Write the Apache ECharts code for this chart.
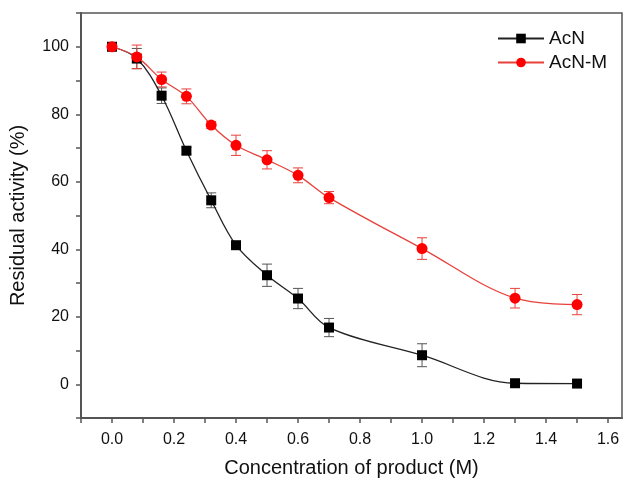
<!DOCTYPE html>
<html>
<head>
<meta charset="utf-8">
<script src="https://cdn.jsdelivr.net/npm/echarts@6/dist/echarts.min.js"></script>
<style>
  html, body { margin: 0; padding: 0; background: #fff; }
  #main { width: 625px; height: 482px; }
</style>
</head>
<body>
<div id="main"></div>
<script>
// concentration (M)
const conc = [0, 0.08, 0.16, 0.24, 0.32, 0.4, 0.5, 0.6, 0.7, 1.0, 1.3, 1.5];

// residual activity (%)
const acn = [100, 96.5, 85.5, 69.2, 54.5, 41.2, 32.3, 25.4, 16.8, 8.6, 0.3, 0.2];
const acnErr = [0, 3, 2.3, 1, 2.2, 1, 3.3, 3, 2.7, 3.4, 0, 0];
const acnM = [100, 97, 90.3, 85.3, 76.8, 70.8, 66.5, 61.9, 55.3, 40.2, 25.5, 23.6];
const acnMErr = [0, 3.5, 2.2, 2.2, 1, 3, 2.7, 2.2, 1.8, 3.2, 2.9, 3];

const font = 'Liberation Sans, Arial, sans-serif';
const axisColor = '#555';

function pairs(ys) {
  return conc.map((x, i) => [x, ys[i]]);
}

function errData(ys, errs) {
  return conc.map((x, i) => [x, ys[i] - errs[i], ys[i] + errs[i]]);
}

function errorBars(color) {
  return function (params, api) {
    const x = api.value(0);
    const lo = api.coord([x, api.value(1)]);
    const hi = api.coord([x, api.value(2)]);
    const half = 5;
    const style = { stroke: color, lineWidth: 1 };
    if (Math.abs(hi[1] - lo[1]) < 1) return null;
    return {
      type: 'group',
      children: [
        { type: 'line', shape: { x1: lo[0], y1: lo[1], x2: hi[0], y2: hi[1] }, style: style },
        { type: 'line', shape: { x1: lo[0] - half, y1: lo[1], x2: lo[0] + half, y2: lo[1] }, style: style },
        { type: 'line', shape: { x1: hi[0] - half, y1: hi[1], x2: hi[0] + half, y2: hi[1] }, style: style }
      ]
    };
  };
}

const myChart = echarts.init(document.getElementById('main'));

myChart.setOption({
  animation: false,
  textStyle: { fontFamily: font },
  grid: {
    left: 81, top: 13, right: 3, bottom: 64,
    containLabel: false,
    outerBoundsMode: 'none',
    show: true, borderColor: axisColor, borderWidth: 1.5
  },
  legend: {
    orient: 'vertical',
    left: 492,
    top: 24,
    itemWidth: 46,
    itemHeight: 12,
    itemGap: 5,
    data: ['AcN', 'AcN-M'],
    textStyle: { fontFamily: font, fontSize: 19, color: '#111' }
  },
  xAxis: {
    type: 'value',
    min: -0.1,
    max: 1.645,
    interval: 0.1,
    name: 'Concentration of product (M)',
    nameLocation: 'middle',
    nameGap: 40,
    nameTextStyle: { fontFamily: font, fontSize: 20, color: '#111' },
    axisLine: { onZero: false, lineStyle: { color: axisColor, width: 2 } },
    axisTick: { length: 5, lineStyle: { color: axisColor, width: 1.5 } },
    splitLine: { show: false },
    axisLabel: {
      margin: 14,
      fontSize: 16,
      color: '#111',
      showMaxLabel: false,
      formatter: v => {
        const k = Math.round(v * 10);
        return (k >= 0 && k % 2 === 0) ? (k / 10).toFixed(1) : '';
      }
    }
  },
  yAxis: {
    type: 'value',
    min: -10,
    max: 110,
    interval: 10,
    name: 'Residual activity (%)',
    nameLocation: 'middle',
    nameGap: 53,
    nameTextStyle: { fontFamily: font, fontSize: 20, color: '#111' },
    axisLine: { onZero: false, lineStyle: { color: axisColor, width: 2 } },
    axisTick: { length: 5, lineStyle: { color: axisColor, width: 1.5 } },
    splitLine: { show: false },
    axisLabel: {
      margin: 12,
      fontSize: 16,
      color: '#111',
      formatter: v => (v >= 0 && v <= 100 && v % 20 === 0) ? String(v) : ''
    }
  },
  series: [
    {
      type: 'custom',
      name: 'errAcN',
      renderItem: errorBars('#555'),
      data: errData(acn, acnErr),
      z: 1
    },
    {
      type: 'custom',
      name: 'errAcNM',
      renderItem: errorBars('#e8413b'),
      data: errData(acnM, acnMErr),
      z: 1
    },
    {
      name: 'AcN',
      type: 'line',
      smooth: 0.35,
      data: pairs(acn),
      symbol: 'rect',
      symbolSize: 10,
      itemStyle: { color: '#000' },
      lineStyle: { color: '#222', width: 1.3 },
      z: 3
    },
    {
      name: 'AcN-M',
      type: 'line',
      smooth: 0.35,
      data: pairs(acnM),
      symbol: 'circle',
      symbolSize: 11,
      itemStyle: { color: '#ff0000' },
      lineStyle: { color: '#e8413b', width: 1.3 },
      z: 4
    }
  ]
});
</script>
</body>
</html>
